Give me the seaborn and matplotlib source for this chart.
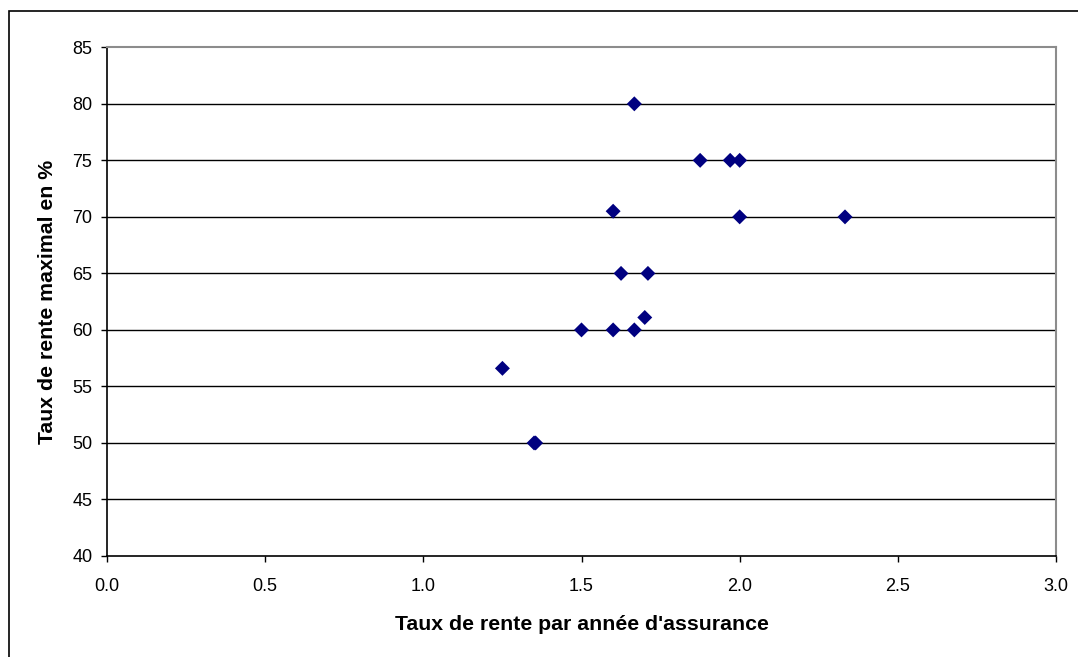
import matplotlib
matplotlib.use("Agg")
import matplotlib.pyplot as plt
from matplotlib.patches import Rectangle
import seaborn as sns
import pandas as pd

# Taux de rente par année d'assurance vs taux de rente maximal
taux_par_annee = [1.667, 1.875, 1.97, 2.0, 2.0, 2.333, 1.6, 1.625, 1.71,
                  1.7, 1.5, 1.6, 1.667, 1.25, 1.35, 1.355]
taux_maximal = [80, 75, 75, 75, 70, 70, 70.5, 65, 65,
                61.1, 60, 60, 60, 56.6, 50, 50]

x_ticks = [0.0, 0.5, 1.0, 1.5, 2.0, 2.5, 3.0]
y_ticks = [40, 45, 50, 55, 60, 65, 70, 75, 80, 85]

df = pd.DataFrame({"x": taux_par_annee, "y": taux_maximal})

sns.set_style("white")
plt.rcParams["font.family"] = ["Liberation Sans", "DejaVu Sans"]
plt.rcParams["text.color"] = "black"
plt.rcParams["axes.labelcolor"] = "black"
plt.rcParams["xtick.color"] = "black"
plt.rcParams["ytick.color"] = "black"

W, H = 1078, 657
fig = plt.figure(figsize=(W / 100, H / 100), dpi=100)
ax = fig.add_axes([107 / W, 1 - 556 / H, (1056 - 107) / W, (556 - 47.3) / H])

# outer chart frame (extends past the right and bottom edges)
fig.patches.append(Rectangle((9 / W, -0.05), 1.2, (H - 11) / H + 0.05,
                             transform=fig.transFigure, fill=False,
                             edgecolor="black", linewidth=1.2))

sns.scatterplot(data=df, x="x", y="y", marker="D", s=58, color="#000080",
                edgecolor="none", linewidth=0, ax=ax, zorder=3)

ax.set_xlim(0, 3)
ax.set_ylim(40, 85)
ax.set_xticks(x_ticks)
ax.set_xticklabels([f"{v:.1f}" for v in x_ticks])
ax.set_yticks(y_ticks)
ax.set_yticklabels([str(v) for v in y_ticks])

for v in y_ticks[1:-1]:
    ax.axhline(v, color="black", linewidth=1.0, zorder=1)

for side in ["top", "right"]:
    ax.spines[side].set_visible(True)
    ax.spines[side].set_color("#8c8c8c")
    ax.spines[side].set_linewidth(1.5)
for side in ["left", "bottom"]:
    ax.spines[side].set_color("black")
    ax.spines[side].set_linewidth(1.2)

ax.tick_params(axis="y", which="major", direction="out", length=4,
               width=1, labelsize=13, pad=6.5, left=True)
ax.tick_params(axis="x", which="major", direction="out", length=4,
               width=1, labelsize=13, pad=11.5, bottom=True)

ax.set_xlabel("Taux de rente par année d'assurance", fontsize=15.3,
              fontweight="bold", labelpad=15)
ax.set_ylabel("Taux de rente maximal en %", fontsize=15.3,
              fontweight="bold", labelpad=11)

fig.savefig("out.png", dpi=100)
